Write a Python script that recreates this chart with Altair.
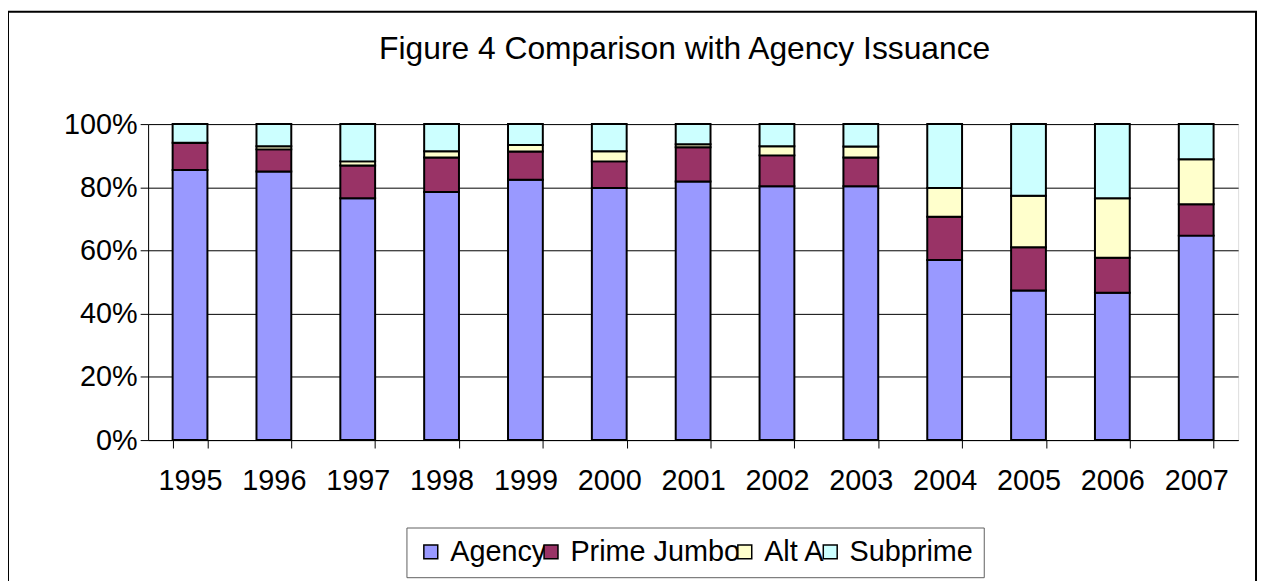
import altair as alt
import pandas as pd

years = ["1995", "1996", "1997", "1998", "1999", "2000", "2001",
         "2002", "2003", "2004", "2005", "2006", "2007"]
agency = [85.5, 85.0, 76.5, 78.5, 82.4, 79.8, 81.8, 80.3, 80.3, 57.0, 47.3, 46.6, 64.7]
prime_jumbo = [8.6, 7.0, 10.4, 10.9, 8.9, 8.4, 10.9, 9.8, 9.1, 13.7, 13.7, 11.1, 9.9]
alt_a = [0.0, 1.0, 1.3, 2.0, 2.1, 3.2, 0.9, 2.9, 3.5, 9.1, 16.3, 18.8, 14.3]
subprime = [5.9, 7.0, 11.8, 8.6, 6.6, 8.6, 6.4, 7.0, 7.1, 20.2, 22.7, 23.5, 11.1]

series_names = ["Agency", "Prime Jumbo", "Alt A", "Subprime"]
series_colors = ["#9999FF", "#993366", "#FFFFCC", "#CCFFFF"]
series_values = [agency, prime_jumbo, alt_a, subprime]
title_text = "Figure 4 Comparison with Agency Issuance"

rows = []
for si, (name, vals) in enumerate(zip(series_names, series_values)):
    for y, v in zip(years, vals):
        rows.append({"Year": y, "Series": name, "Value": v, "idx": si})
df = pd.DataFrame(rows)

FONT = "Liberation Sans"
W, H = 1097, 318
PAD_L, PAD_T = 141, 115

bars = alt.Chart(df).mark_bar(stroke="black", strokeWidth=2).encode(
    x=alt.X("Year:N", sort=years,
            scale=alt.Scale(paddingInner=0.585, paddingOuter=0.2925),
            axis=alt.Axis(title=None, labelAngle=0, tickBand="extent",
                          tickSize=8, tickColor="#000", domainColor="#000",
                          labelFontSize=29, labelFont=FONT, labelColor="#000",
                          labelPadding=19, grid=False)),
    y=alt.Y("Value:Q", stack="normalize",
            scale=alt.Scale(domain=[0, 1], nice=False),
            axis=alt.Axis(title=None, format=".0%", values=[0, 0.2, 0.4, 0.6, 0.8, 1.0],
                          tickSize=8, tickColor="#000", domainColor="#000",
                          gridColor="#000", gridWidth=1,
                          labelFontSize=29, labelFont=FONT, labelColor="#000",
                          labelPadding=3)),
    color=alt.Color("Series:N", sort=series_names,
                    scale=alt.Scale(domain=series_names, range=series_colors),
                    legend=alt.Legend(title=None, orient="none", direction="horizontal",
                                      legendX=260, legendY=406,
                                      symbolType="square", symbolSize=196,
                                      symbolStrokeColor="#000", symbolStrokeWidth=1.5,
                                      symbolOpacity=1,
                                      labelFontSize=29, labelFont=FONT, labelColor="#000",
                                      labelOffset=5, columnPadding=-10,
                                      gridAlign="none",
                                      labelLimit=400,
                                      padding=10, strokeColor="#606060",
                                      fillColor="#FFFFFF")),
    order=alt.Order("idx:Q", sort="ascending"),
)

frame = alt.Chart(pd.DataFrame({"f": [0]})).mark_rect(
    fill="transparent", stroke="#000", strokeWidth=2, clip=False
).encode(
    x=alt.value(0 - PAD_L), x2=alt.value(1256 - PAD_L),
    y=alt.value(2 - PAD_T), y2=alt.value(700),
)

title = alt.Chart(pd.DataFrame({"t": [title_text]})).mark_text(
    font=FONT, fontSize=32, color="#000", align="center", baseline="alphabetic",
    clip=False
).encode(
    text="t:N", x=alt.value(540), y=alt.value(-66),
)

chart = alt.layer(frame, bars, title).properties(
    width=W, height=H,
    autosize=alt.AutoSizeParams(type="none"),
    padding={"left": PAD_L, "top": PAD_T, "right": 20, "bottom": 140},
).configure_view(
    fill="#C0C0C0", stroke="#808080", strokeWidth=1.5
).configure(background="#FFFFFF")

chart.save("out.html", embed_options={"renderer": "svg", "actions": False})
